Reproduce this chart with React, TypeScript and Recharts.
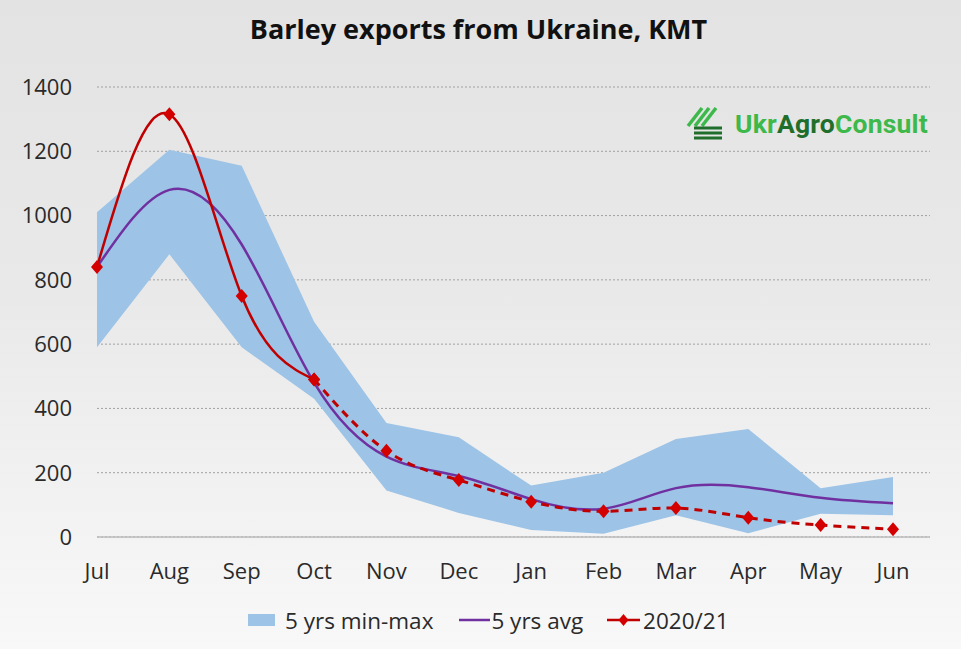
import React from 'react';
import { ComposedChart, Area, Line, XAxis, YAxis, CartesianGrid } from 'recharts';

const months = ['Jul', 'Aug', 'Sep', 'Oct', 'Nov', 'Dec', 'Jan', 'Feb', 'Mar', 'Apr', 'May', 'Jun'];
const minVals = [590, 880, 590, 430, 145, 75, 22, 10, 68, 12, 72, 68];
const maxVals = [1010, 1205, 1155, 670, 355, 310, 160, 200, 305, 336, 152, 187];
const avgVals = [840, 1080, 910, 480, 250, 190, 118, 88, 152, 155, 122, 105];
const season2021 = [840, 1315, 750, 490, 268, 177, 110, 80, 90, 60, 37, 24];
const solidUntil = 3; // Oct - after that the line is dashed
const yTicks = [0, 200, 400, 600, 800, 1000, 1200, 1400];

const data = months.map((m, i) => ({
  month: m,
  range: [minVals[i], maxVals[i]],
  avg: avgVals[i],
  solid: i <= solidUntil ? season2021[i] : null,
  dashed: i >= solidUntil ? season2021[i] : null,
}));

const BLUE = '#9dc3e6';
const PURPLE = '#7030a0';
const RED = '#c00000';
const FONT = '"Open Sans", sans-serif';

const Diamond = (props: any) => {
  const { cx, cy, index, value } = props;
  if (cx == null || cy == null || value == null) return <g key={index} />;
  return (
    <polygon
      key={index}
      points={`${cx},${cy - 7} ${cx + 6},${cy} ${cx},${cy + 7} ${cx - 6},${cy}`}
      fill="#d40000"
    />
  );
};

const Logo = () => (
  <div style={{ position: 'absolute', left: 686, top: 106, display: 'flex', alignItems: 'center' }}>
    <svg width={38} height={34}>
      <g stroke="#3cb94a" strokeWidth={3.5} strokeLinecap="butt">
        <line x1={2} y1={20} x2={16} y2={2} />
        <line x1={9} y1={20} x2={23} y2={2} />
        <line x1={16} y1={20} x2={30} y2={2} />
      </g>
      <g stroke="#1f6e2c" strokeWidth={3}>
        <line x1={8} y1={22} x2={36} y2={22} />
        <line x1={8} y1={27} x2={36} y2={27} />
        <line x1={8} y1={32} x2={36} y2={32} />
      </g>
    </svg>
    <span style={{ fontFamily: 'Roboto, sans-serif', fontWeight: 700, fontSize: 26.5, marginLeft: 11, color: '#3cb94a', letterSpacing: 0.2 }}>
      Ukr<span style={{ color: '#1f6e2c' }}>Agro</span>Consult
    </span>
  </div>
);

const LegendRow = () => (
  <div style={{ position: 'absolute', left: 248, top: 605, height: 30, display: 'flex', alignItems: 'center', fontFamily: FONT, fontSize: 22.5, color: '#2a2a2a' }}>
    <span style={{ display: 'inline-block', width: 27, height: 12, background: BLUE, marginRight: 10 }} />
    <span>5 yrs min-max</span>
    <svg width={31} height={14} style={{ marginLeft: 26, marginRight: 1 }}>
      <line x1={0} y1={7} x2={31} y2={7} stroke={PURPLE} strokeWidth={2.5} />
    </svg>
    <span>5 yrs avg</span>
    <svg width={33} height={16} style={{ marginLeft: 24, marginRight: 3 }}>
      <line x1={0} y1={8} x2={33} y2={8} stroke={RED} strokeWidth={2.5} />
      <polygon points="16.5,2 21.5,8 16.5,14 11.5,8" fill="#d40000" />
    </svg>
    <span>2020/21</span>
  </div>
);

export default function App() {
  return (
    <div
      style={{
        position: 'absolute',
        left: 0,
        top: 0,
        width: 961,
        height: 649,
        overflow: 'hidden',
        background: 'linear-gradient(to bottom, #e3e3e3 0%, #e9e9e9 45%, #f8f8f8 100%)',
      }}
    >
      <div
        style={{
          position: 'absolute',
          left: 0,
          width: 961,
          top: 10,
          textAlign: 'center',
          fontFamily: FONT,
          fontWeight: 700,
          fontSize: 27,
          color: '#111',
        }}
      >
        <span style={{ display: 'inline-block', marginLeft: -4 }}>Barley exports from Ukraine, KMT</span>
      </div>
      <ComposedChart
        width={961}
        height={649}
        data={data}
        margin={{ top: 87, right: 31, left: 0, bottom: 72 }}
        style={{ position: 'absolute', left: 0, top: 0 }}
      >
        <CartesianGrid vertical={false} stroke="#a0a0a0" strokeDasharray="2 2" />
        <XAxis
          dataKey="month"
          height={40}
          padding={{ left: 0, right: 37 }}
          axisLine={{ stroke: '#bcbcbc', strokeWidth: 1.5 }}
          tickLine={false}
          tickSize={0}
          tickMargin={26}
          interval={0}
          tick={{ fontFamily: FONT, fontSize: 22, fill: '#2a2a2a' }}
        />
        <YAxis
          domain={[0, 1400]}
          ticks={yTicks}
          width={97}
          axisLine={false}
          tickLine={false}
          tickSize={0}
          tickMargin={25}
          tick={{ fontFamily: FONT, fontSize: 22, fill: '#2a2a2a' }}
        />
        <Area dataKey="range" type="linear" fill={BLUE} fillOpacity={1} stroke="none" isAnimationActive={false} />
        <Line dataKey="avg" type="natural" stroke={PURPLE} strokeWidth={2.5} dot={false} isAnimationActive={false} />
        <Line dataKey="dashed" type="natural" stroke={RED} strokeWidth={3} strokeDasharray="8 6" dot={<Diamond />} isAnimationActive={false} />
        <Line dataKey="solid" type="natural" stroke={RED} strokeWidth={2.5} dot={<Diamond />} isAnimationActive={false} />
      </ComposedChart>
      <Logo />
      <LegendRow />
    </div>
  );
}
